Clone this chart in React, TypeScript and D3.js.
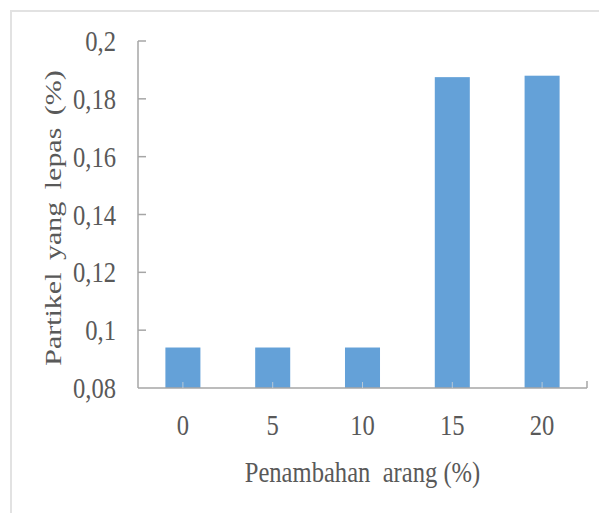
import React from "react";
import { scaleBand, scaleLinear } from "d3";

const categories = ["0", "5", "10", "15", "20"];
const values = [0.094, 0.094, 0.094, 0.1875, 0.188];
const yTicks = [0.08, 0.1, 0.12, 0.14, 0.16, 0.18, 0.2];

const W = 599;
const H = 513;
const axisLeft = 138;
const axisRight = 587;
const axisTop = 41;
const axisBottom = 388;
const sx = 0.82; // glyphs look squeezed sideways in the source
const font = "'Liberation Serif', 'Times New Roman', serif";
const textColor = "#595959";

function fmt(v: number) {
  return String(+v.toFixed(2)).replace(".", ",");
}

export default function App() {
  const x = scaleBand<string>()
    .domain(categories)
    .range([axisLeft, axisRight])
    .paddingInner(0.61)
    .paddingOuter(0.305);

  const y = scaleLinear().domain([0.08, 0.2]).range([axisBottom, axisTop]);

  return (
    <div style={{ position: "absolute", left: 0, top: 0 }}>
      <svg width={W} height={H} style={{ display: "block" }}>
        <rect width={W} height={H} fill="#fff" />
        {/* outer frame */}
        <line x1={11} y1={11} x2={W} y2={11} stroke="#e2e2e2" strokeWidth={2} />
        <line x1={11} y1={10} x2={11} y2={H} stroke="#e2e2e2" strokeWidth={2} />

        {categories.map((c, i) => (
          <rect
            key={c}
            x={x(c)}
            y={y(values[i])}
            width={x.bandwidth()}
            height={y(0.08) - y(values[i])}
            fill="#64a1d8"
          />
        ))}

        {/* y axis */}
        <line x1={axisLeft} y1={axisTop} x2={axisLeft} y2={axisBottom} stroke="#a6a6a6" strokeWidth={1.5} />
        {yTicks.map((t) => (
          <g key={t}>
            {t > 0.08 && (
              <line x1={axisLeft} x2={axisLeft + 8} y1={y(t)} y2={y(t)} stroke="#a6a6a6" strokeWidth={1.5} />
            )}
            <text
              transform={`translate(116,${y(t) + 10}) scale(${sx},1)`}
              textAnchor="end"
              fontFamily={font}
              fontSize={30}
              fill={textColor}
            >
              {fmt(t)}
            </text>
          </g>
        ))}

        {/* x axis */}
        <line x1={axisLeft} y1={axisBottom} x2={axisRight} y2={axisBottom} stroke="#a6a6a6" strokeWidth={1.5} />
        <line x1={axisRight} y1={axisBottom} x2={axisRight} y2={axisBottom - 7} stroke="#a6a6a6" strokeWidth={1.5} />
        {categories.map((c) => {
          const cx = (x(c) as number) + x.bandwidth() / 2;
          return (
            <g key={c}>
              <line x1={cx} x2={cx} y1={axisBottom} y2={axisBottom - 6} stroke="#b8c9d8" strokeWidth={1} />
              <text
                transform={`translate(${cx},435) scale(${sx},1)`}
                textAnchor="middle"
                fontFamily={font}
                fontSize={30}
                fill={textColor}
              >
                {c}
              </text>
            </g>
          );
        })}

        {/* axis titles */}
        <text
          transform={`translate(${(axisLeft + axisRight) / 2},482) scale(${sx},1)`}
          textAnchor="middle"
          fontFamily={font}
          fontSize={30}
          fill={textColor}
          style={{ whiteSpace: "pre" }}
        >
          {"Penambahan  arang (%)"}
        </text>
        <text
          transform={`translate(61,218) rotate(-90) scale(1,0.76)`}
          textAnchor="middle"
          fontFamily={font}
          fontSize={30}
          wordSpacing={5}
          fill={textColor}
        >
          Partikel yang lepas (%)
        </text>
      </svg>
    </div>
  );
}
